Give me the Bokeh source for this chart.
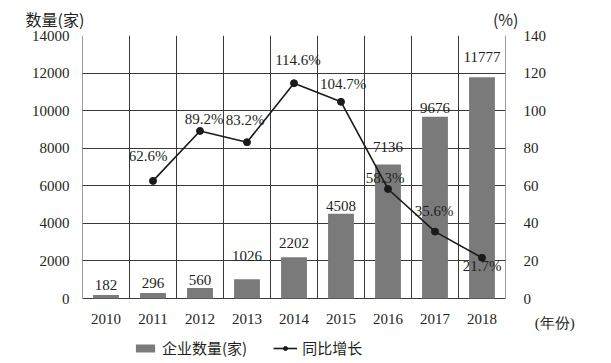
from bokeh.plotting import figure
from bokeh.models import (Range1d, LinearAxis, FactorRange, ColumnDataSource, LabelSet,
                          Title, Legend, FixedTicker)
from bokeh.embed import file_html
from bokeh.resources import INLINE

# ---- data ----
years = ["2010", "2011", "2012", "2013", "2014", "2015", "2016", "2017", "2018"]
counts = [182, 296, 560, 1026, 2202, 4508, 7136, 9676, 11777]
growth_years = ["2011", "2012", "2013", "2014", "2015", "2016", "2017", "2018"]
growth = [62.6, 89.2, 83.2, 114.6, 104.7, 58.3, 35.6, 21.7]
left_ticks = [0, 2000, 4000, 6000, 8000, 10000, 12000, 14000]
right_ticks = [0, 20, 40, 60, 80, 100, 120, 140]

# ---- style (label placement offsets, px) ----
count_label_dy = [5, 5, 3, 18, 9, 3, 12, 4, 15]
growth_label_dx = [-5, 4, -2, 4, 2, -3, -1, 0]
growth_label_dy = [25, 12, 22, 23, 18, 11, 21, -8]
YEAR_UNIT_POS = -12.8          # right-axis position of the "(年份)" unit text
Y_MIN, PCT_MIN = -3460, -34.6  # room below the box for tick labels and legend

SERIF = "Liberation Serif"
CJK = "Noto Sans CJK SC"
INK = "#231f20"
GRID = "#3a3a3a"

p = figure(x_range=FactorRange(*years), y_range=Range1d(Y_MIN, left_ticks[-1]),
           frame_width=423, frame_height=328, x_axis_location=None,
           min_border_left=82, min_border_right=106, min_border_top=35, min_border_bottom=0,
           output_backend="svg", toolbar_location=None)
p.extra_y_ranges = {"pct": Range1d(PCT_MIN, right_ticks[-1])}

p.outline_line_color = None
p.background_fill_color = "white"
p.border_fill_color = "white"

# grid / box
p.xgrid.grid_line_color = None
p.ygrid.ticker = FixedTicker(ticks=left_ticks)
p.ygrid.grid_line_color = GRID
p.ygrid.grid_line_width = 1
n = len(years)
p.segment(x0=list(range(n + 1)), y0=[left_ticks[0]] * (n + 1),
          x1=list(range(n + 1)), y1=[left_ticks[-1]] * (n + 1),
          line_color=GRID, line_width=1)

# left axis
p.yaxis.ticker = FixedTicker(ticks=left_ticks)
p.yaxis.axis_line_color = None
p.yaxis.major_tick_line_color = None
p.yaxis.minor_tick_line_color = None
p.yaxis.major_label_standoff = 7
p.yaxis.major_label_text_font = SERIF
p.yaxis.major_label_text_font_size = "15px"
p.yaxis.major_label_text_color = INK

# right axis (also carries the year unit below the box)
ra = LinearAxis(y_range_name="pct", ticker=FixedTicker(ticks=right_ticks + [YEAR_UNIT_POS]))
ra.major_label_overrides = {YEAR_UNIT_POS: "\u00a0\u00a0\u00a0(年份)"}
ra.axis_line_color = None
ra.major_tick_line_color = None
ra.minor_tick_line_color = None
ra.major_label_standoff = 12
ra.major_label_text_font = SERIF
ra.major_label_text_font_size = "15px"
ra.major_label_text_color = INK
p.add_layout(ra, "right")

# year tick labels under the box
xl_src = ColumnDataSource(dict(x=years, y=[left_ticks[0]] * n, txt=years))
p.add_layout(LabelSet(x="x", y="y", text="txt", y_offset=-20, source=xl_src,
                      text_align="center", text_baseline="middle",
                      text_font=SERIF, text_font_size="15px", text_color=INK))

# bars
bar_src = ColumnDataSource(dict(x=years, top=counts, txt=[str(c) for c in counts], dy=count_label_dy))
bars = p.vbar(x="x", top="top", bottom=0, width=0.55, source=bar_src,
              fill_color="#7a7a7a", line_color=None)
p.add_layout(LabelSet(x="x", y="top", text="txt", y_offset="dy", source=bar_src,
                      text_align="center", text_baseline="bottom",
                      text_font=SERIF, text_font_size="15px", text_color=INK))

# line
line_src = ColumnDataSource(dict(x=growth_years, y=growth, txt=["%.1f%%" % g for g in growth],
                                 dx=growth_label_dx, dy=growth_label_dy))
ln = p.line(x="x", y="y", source=line_src, y_range_name="pct", line_color="#1a1a1a", line_width=1.6)
pts = p.scatter(x="x", y="y", source=line_src, y_range_name="pct", size=7,
                fill_color="#1a1a1a", line_color="#1a1a1a")
p.add_layout(LabelSet(x="x", y="y", text="txt", x_offset="dx", y_offset="dy", source=line_src,
                      y_range_name="pct", text_align="center", text_baseline="middle",
                      text_font=SERIF, text_font_size="15px", text_color=INK))

# unit titles above the box (left and right units share one row)
top_text = "数量(家)" + "\u00a0" * 114 + "(%)"
p.add_layout(Title(text=top_text, align="left", offset=-57, standoff=9,
                   text_font=CJK, text_font_size="16px", text_font_style="normal",
                   text_color=INK), "above")

# legend, inside the frame area under the year labels
legend = Legend(items=[("企业数量(家)", [bars]), ("同比增长", [ln, pts])],
                orientation="horizontal", location=(51, 5),
                label_text_font=CJK, label_text_font_size="15px", label_text_color=INK,
                glyph_width=24, glyph_height=10, label_standoff=5, spacing=26,
                border_line_color=None, background_fill_alpha=0, padding=0, margin=0)
p.add_layout(legend, "center")

open("out.html", "w").write(file_html(p, INLINE))
